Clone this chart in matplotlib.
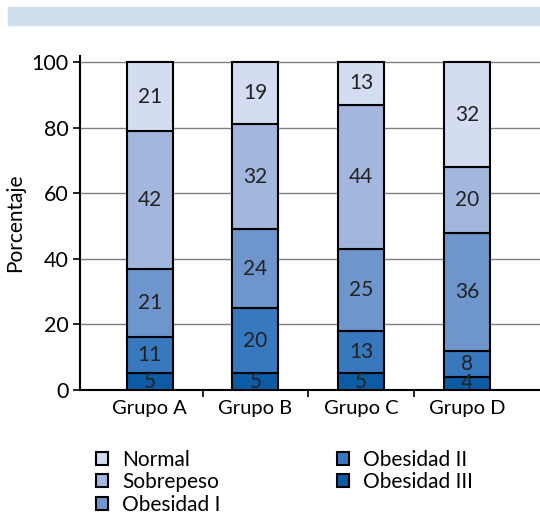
import matplotlib
matplotlib.use('Agg')
import matplotlib.pyplot as plt
from matplotlib.patches import Rectangle
import numpy as np

plt.rcParams['font.family'] = ['Lato', 'DejaVu Sans']

grupos = ['Grupo A', 'Grupo B', 'Grupo C', 'Grupo D']
categorias = ['Obesidad III', 'Obesidad II', 'Obesidad I', 'Sobrepeso', 'Normal']
obesidad3 = [5, 5, 5, 4]
obesidad2 = [11, 20, 13, 8]
obesidad1 = [21, 24, 25, 36]
sobrepeso = [42, 32, 44, 20]
normal = [21, 19, 13, 32]
colores = ['#0b5ba5', '#3878be', '#6f96cc', '#a3b6de', '#d3dcf0']

series = [obesidad3, obesidad2, obesidad1, sobrepeso, normal]

fig = plt.figure(figsize=(5.4, 5.15), dpi=100)
fig.patches.append(Rectangle((8 / 540, 1 - 25 / 515), 1, 18 / 515,
                             transform=fig.transFigure, color='#cddeed', zorder=0))
ax = fig.add_axes([0.148, 0.243, 0.852, 0.649])

x = np.arange(len(grupos))
base = np.zeros(len(grupos))
bars = {}
for nombre, vals, col in zip(categorias, series, colores):
    b = ax.bar(x, vals, bottom=base, width=0.435, color=col,
               edgecolor='black', linewidth=1.5, label=nombre, zorder=3)
    bars[nombre] = b
    for xi, v, b0 in zip(x, vals, base):
        ax.text(xi, b0 + v / 2, str(v), ha='center', va='center',
                fontsize=15, color='#222222', zorder=4)
    base += vals

ax.set_xlim(-0.66, 3.69)
ax.set_ylim(0, 102)
ax.set_yticks([0, 20, 40, 60, 80, 100])
ax.yaxis.grid(True, color='#808080', linewidth=1, zorder=0)
ax.set_xticks(x)
ax.set_xticklabels(grupos)
ax.set_xticks([0.5, 1.5, 2.5], minor=True)
ax.tick_params(axis='x', which='major', length=0, labelsize=14.5, pad=7)
ax.tick_params(axis='x', which='minor', length=5, width=1.2, direction='out')
ax.tick_params(axis='y', length=5, width=1.2, labelsize=15.5, pad=3)
for s in ['top', 'right']:
    ax.spines[s].set_visible(False)
for s in ['left', 'bottom']:
    ax.spines[s].set_linewidth(1.5)
ax.set_ylabel('Porcentaje', fontsize=15, labelpad=5)

orden = ['Normal', 'Sobrepeso', 'Obesidad I', 'Obesidad II', 'Obesidad III']
fig.legend([bars[n] for n in orden], orden, ncol=2, loc='upper left',
           bbox_to_anchor=(0.158, 0.147), frameon=False, fontsize=15,
           handlelength=0.6, handleheight=0.6, handletextpad=0.65,
           labelspacing=0.12, columnspacing=5.6, borderpad=0)

fig.savefig('out.png', dpi=100)
